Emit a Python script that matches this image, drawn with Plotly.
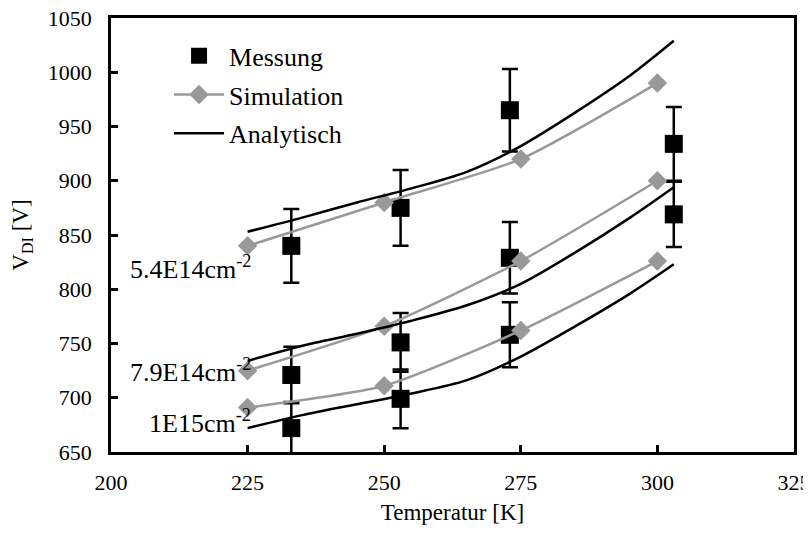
import plotly.graph_objects as go

# ---- data ----
meas_T = [233, 253, 273, 303]
meas_54 = [840, 875, 965, 934]
err_54 = [34, 35, 38, 34]
meas_79 = [721, 751, 829, 869]
err_79 = [26, 27, 33, 30]
meas_1E15_T = [233, 253, 273]
meas_1E15 = [672, 699, 758]
err_1E15 = [24, 27, 30]

sim_T = [225, 250, 275, 300]
sim_54 = [840, 880, 920, 990]
sim_79 = [725, 766, 826, 900]
sim_1E15 = [691, 711, 762, 826]

ana_T = [225, 235, 245, 255, 265, 275, 285, 295, 303]
ana_54 = [853, 866, 880, 893, 908, 932, 963, 997, 1029]
ana_79 = [734, 748, 759, 771, 785, 805, 834, 866, 894]
ana_1E15 = [672, 684, 694, 704, 716, 738, 766, 796, 823]

labels = ["5.4E14cm<sup>-2</sup>", "7.9E14cm<sup>-2</sup>", "1E15cm<sup>-2</sup>"]
label_y = [820, 725, 678]

x_ticks = [200, 225, 250, 275, 300, 325]
y_ticks = [650, 700, 750, 800, 850, 900, 950, 1000, 1050]

FONT = "Liberation Serif, Times New Roman, serif"
GRAY = "#999999"

fig = go.Figure()

meas_sets = [(meas_T, meas_54, err_54), (meas_T, meas_79, err_79), (meas_1E15_T, meas_1E15, err_1E15)]
for i, (t, v, e) in enumerate(meas_sets):
    fig.add_trace(go.Scatter(
        x=t, y=v, mode="markers", name="Messung",
        legendgroup="m", showlegend=(i == 0), cliponaxis=False,
        marker=dict(symbol="square", size=18, color="black"),
        error_y=dict(type="data", array=e, visible=True, color="black", thickness=2.5, width=8),
    ))

for i, v in enumerate([sim_54, sim_79, sim_1E15]):
    fig.add_trace(go.Scatter(
        x=sim_T, y=v, mode="lines+markers", name="Simulation",
        legendgroup="s", showlegend=(i == 0), cliponaxis=False,
        line=dict(color=GRAY, width=2.5, shape="spline", smoothing=0.6),
        marker=dict(symbol="diamond", size=15, color=GRAY),
    ))

for i, v in enumerate([ana_54, ana_79, ana_1E15]):
    fig.add_trace(go.Scatter(
        x=ana_T, y=v, mode="lines", name="Analytisch",
        legendgroup="a", showlegend=(i == 0),
        line=dict(color="black", width=2.5, shape="spline", smoothing=0.8),
    ))

for txt, y in zip(labels, label_y):
    fig.add_annotation(x=226, y=y, xref="x", yref="y", text=txt, showarrow=False,
                       xanchor="right", yanchor="middle",
                       font=dict(family=FONT, size=26, color="black"))

axis_common = dict(showline=True, linecolor="black", linewidth=2.5, mirror=True,
                   ticks="inside", ticklen=7, tickwidth=2.5, tickcolor="black",
                   showgrid=False, zeroline=False, automargin=False,
                   ticklabeloverflow="allow",
                   tickfont=dict(family=FONT, size=22, color="black"))

fig.update_xaxes(range=[200, 325], tickvals=x_ticks, ticktext=[str(v) for v in x_ticks],
                 title=dict(text="Temperatur [K]", font=dict(family=FONT, size=23, color="black"), standoff=13),
                 ticklabelstandoff=9, **axis_common)
fig.update_yaxes(range=[650, 1050], tickvals=y_ticks, ticktext=[str(v) for v in y_ticks],
                 title=dict(text="V<sub>DI</sub> [V]", font=dict(family=FONT, size=23, color="black"), standoff=16),
                 ticklabelstandoff=12, **axis_common)

fig.update_layout(
    width=803, height=517,
    margin=dict(l=103, r=17, t=10, b=73),
    paper_bgcolor="white", plot_bgcolor="white",
    font=dict(family=FONT, color="black"),
    legend=dict(x=0.085, y=0.967, xanchor="left", yanchor="top",
                font=dict(family=FONT, size=26, color="black"),
                bgcolor="rgba(0,0,0,0)", tracegroupgap=2, itemwidth=50),
    showlegend=True,
)

fig.write_html("out.html")
